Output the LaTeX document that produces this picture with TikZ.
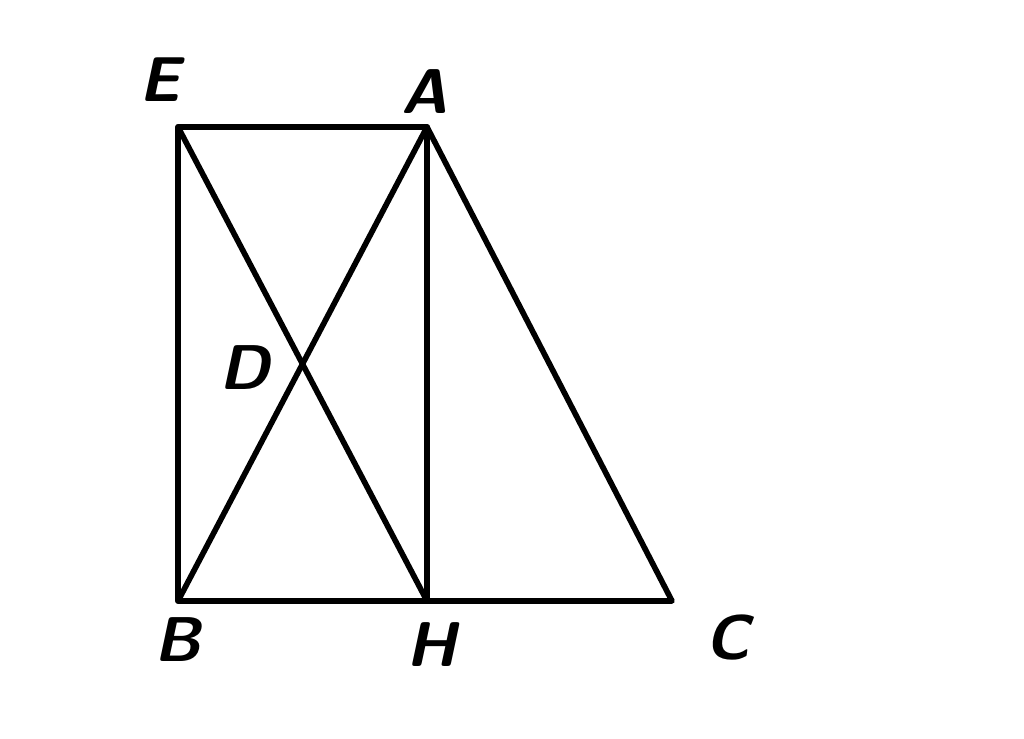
\documentclass[tikz,border=0pt]{standalone}
\usepackage{xcolor}
\usetikzlibrary{positioning}

\begin{document}
\begin{tikzpicture}[line width=1.6pt,line join=round,line cap=round,
  lbl/.style={font=\fontsize{18}{20}\selectfont\sffamily\bfseries\itshape,inner sep=0pt}]
\useasboundingbox (0,0) rectangle (10.24,7.39);

% points
\coordinate (E) at (1.78,6.12);
\coordinate (A) at (4.27,6.12);
\coordinate (B) at (1.78,1.38);
\coordinate (H) at (4.27,1.38);
\coordinate (C) at (6.72,1.38);
\coordinate (D) at (intersection of E--H and A--B);

% labels
\node[lbl] (LabelE) at (1.60,6.59) {E};
\node[lbl] (LabelA) at (4.25,6.47) {A};
\node[lbl] (LabelD) at (2.45,3.71) {D};
\node[lbl] (LabelB) at (1.78,0.99) {B};
\node[lbl] (LabelH) at (4.32,0.94) {H};
\node[lbl] (LabelC) at (7.28,1.01) {C};

\draw (E) -- (A) -- (C) -- (B) -- cycle;
\draw (A) -- (H);
\draw (E) -- (H);
\draw (A) -- (B);

\end{tikzpicture}
\end{document}
